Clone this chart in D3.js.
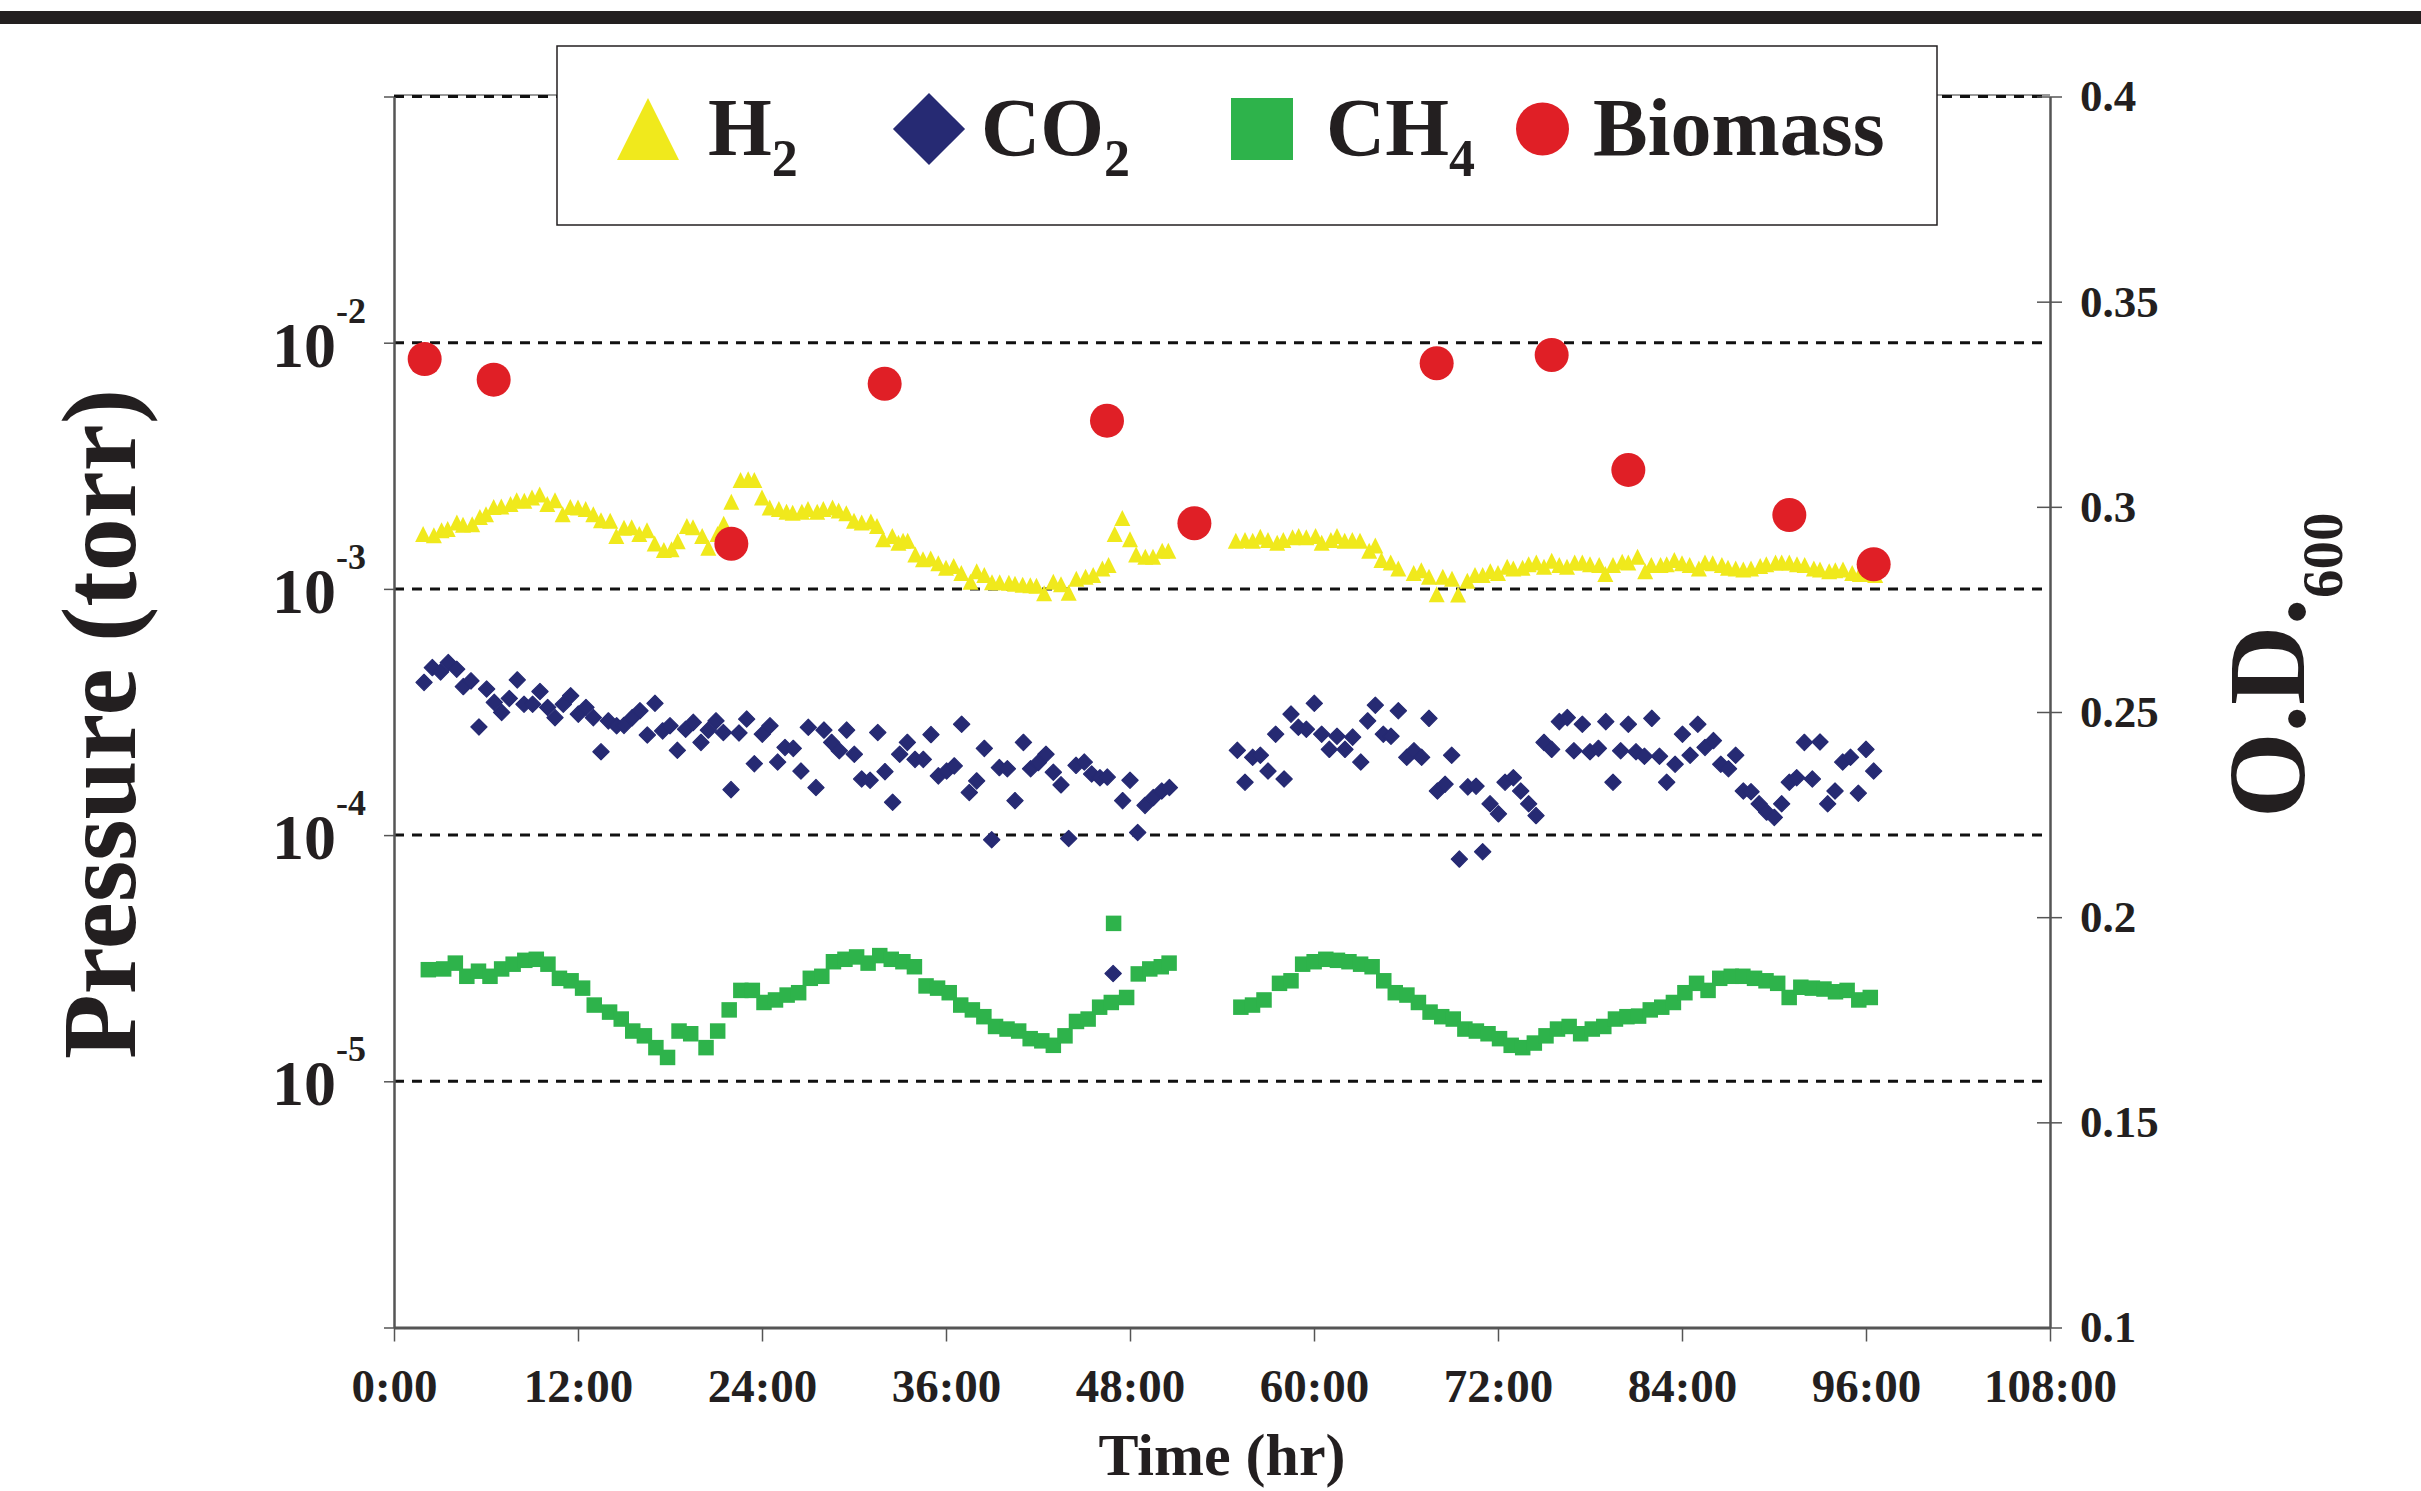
<!DOCTYPE html>
<html>
<head>
<meta charset="utf-8">
<script src="https://cdn.jsdelivr.net/npm/d3@7"></script>
<style>
  body { margin: 0; background: #fff; }
  svg text { font-family: "Liberation Serif", "Times New Roman", serif; font-weight: bold; fill: #231f20; }
</style>
</head>
<body>
<svg id="chart"></svg>
<script>
var width = 2421;
var height = 1491;

// [hours, torr]
var h2 = [
  [1.9,1.67e-3],[2.6,1.65e-3],[3.1,1.73e-3],[3.5,1.75e-3],[4.1,1.86e-3],[4.5,1.82e-3],[5.1,1.83e-3],[5.6,1.96e-3],
  [6.0,2.01e-3],[6.5,2.15e-3],[7.0,2.16e-3],[7.6,2.21e-3],[8.0,2.29e-3],[8.5,2.28e-3],[9.0,2.35e-3],[9.5,2.42e-3],
  [10.0,2.21e-3],[10.5,2.29e-3],[11.0,2.01e-3],[11.5,2.15e-3],[12.0,2.14e-3],[12.5,2.11e-3],[13.0,2.01e-3],[13.5,1.90e-3],
  [14.1,1.89e-3],[14.5,1.64e-3],[15.0,1.77e-3],[15.5,1.78e-3],[16.0,1.67e-3],[16.5,1.73e-3],[17.0,1.53e-3],[17.6,1.44e-3],
  [18.1,1.45e-3],[18.5,1.56e-3],[19.1,1.80e-3],[19.5,1.78e-3],[20.1,1.64e-3],[20.5,1.47e-3],[21.1,1.67e-3],[21.5,1.84e-3],
  [22.0,2.26e-3],[22.6,2.77e-3],[23.1,2.79e-3],[23.5,2.77e-3],[24.0,2.35e-3],[24.5,2.14e-3],[25.1,2.11e-3],[25.6,2.06e-3],
  [26.0,2.04e-3],[26.6,2.06e-3],[27.0,2.11e-3],[27.6,2.06e-3],[28.0,2.11e-3],[28.6,2.14e-3],[29.0,2.08e-3],[29.5,2.03e-3],
  [30.0,1.89e-3],[30.5,1.86e-3],[31.1,1.88e-3],[31.5,1.80e-3],[31.9,1.59e-3],[32.5,1.64e-3],[32.9,1.54e-3],
  [33.2,1.57e-3],[33.5,1.57e-3],[34.0,1.38e-3],[34.5,1.32e-3],[35.0,1.33e-3],[35.5,1.27e-3],[36.0,1.22e-3],[36.5,1.24e-3],
  [37.0,1.16e-3],[37.6,1.07e-3],[38.0,1.18e-3],[38.5,1.14e-3],[39.0,1.065e-3],[39.5,1.065e-3],[40.1,1.06e-3],[40.5,1.05e-3],
  [41.0,1.04e-3],[41.5,1.035e-3],[41.9,1.03e-3],[42.4,0.96e-3],[43.0,1.07e-3],[43.5,1.045e-3],[44.0,0.965e-3],[44.5,1.10e-3],
  [45.1,1.12e-3],[45.6,1.14e-3],[46.2,1.21e-3],[46.6,1.25e-3],[47.0,1.67e-3],[47.5,1.94e-3],[48.0,1.59e-3],[48.4,1.38e-3],
  [49.0,1.35e-3],[49.5,1.35e-3],[50.1,1.43e-3],[50.5,1.43e-3],
  [54.9,1.57e-3],[55.5,1.58e-3],[56.0,1.57e-3],[56.5,1.63e-3],[57.0,1.58e-3],[57.6,1.54e-3],[58.0,1.58e-3],[58.6,1.62e-3],
  [59.0,1.64e-3],[59.5,1.62e-3],[60.1,1.64e-3],[60.5,1.54e-3],[61.1,1.58e-3],[61.5,1.64e-3],[62.0,1.57e-3],[62.5,1.58e-3],
  [63.0,1.57e-3],[63.6,1.43e-3],[64.0,1.50e-3],[64.4,1.31e-3],[65.0,1.28e-3],[65.5,1.21e-3],[66.5,1.16e-3],[67.0,1.19e-3],
  [67.5,1.12e-3],[68.0,0.952e-3],[68.4,1.12e-3],[69.0,1.10e-3],[69.4,0.95e-3],[70.0,1.08e-3],[70.5,1.14e-3],[71.0,1.14e-3],
  [71.5,1.18e-3],[72.0,1.16e-3],[72.6,1.23e-3],[73.0,1.21e-3],[73.6,1.22e-3],[74.0,1.26e-3],[74.5,1.28e-3],[75.0,1.23e-3],
  [75.5,1.30e-3],[76.0,1.25e-3],[76.5,1.23e-3],[77.0,1.28e-3],[77.5,1.28e-3],[78.0,1.26e-3],[78.6,1.25e-3],[79.0,1.15e-3],
  [79.5,1.25e-3],[80.1,1.29e-3],[80.5,1.28e-3],[81.1,1.35e-3],[81.6,1.18e-3],[82.0,1.25e-3],[82.6,1.25e-3],[83.0,1.26e-3],
  [83.5,1.31e-3],[84.0,1.27e-3],[84.5,1.25e-3],[85.1,1.21e-3],[85.5,1.28e-3],[86.0,1.27e-3],[86.6,1.25e-3],[87.0,1.22e-3],
  [87.5,1.21e-3],[88.0,1.20e-3],[88.5,1.21e-3],[89.1,1.24e-3],[89.5,1.26e-3],[90.1,1.28e-3],[90.5,1.28e-3],[91.0,1.28e-3],
  [91.5,1.26e-3],[92.0,1.25e-3],[92.6,1.21e-3],[93.0,1.20e-3],[93.6,1.18e-3],[94.0,1.19e-3],[94.5,1.20e-3],[95.1,1.16e-3],
  [95.6,1.15e-3],[96.0,1.15e-3],[96.6,1.14e-3]
];

var co2 = [
  [1.96,4.17e-4],[2.50,4.79e-4],[3.04,4.60e-4],[3.54,5.02e-4],[4.09,4.72e-4],[4.52,4.01e-4],[5.02,4.23e-4],[5.54,2.75e-4],
  [6.04,3.92e-4],[6.54,3.46e-4],[7.02,3.15e-4],[7.52,3.59e-4],[8.04,4.27e-4],[8.48,3.40e-4],[9.04,3.40e-4],[9.52,3.83e-4],
  [10.02,3.30e-4],[10.50,3.00e-4],[11.04,3.40e-4],[11.52,3.68e-4],[12.02,3.10e-4],[12.52,3.30e-4],[13.0,3.00e-4],[13.5,2.18e-4],
  [13.98,2.91e-4],[14.52,2.78e-4],[15.0,2.79e-4],[15.54,3.00e-4],[16.04,3.20e-4],[16.52,2.55e-4],[17.02,3.43e-4],[17.52,2.65e-4],
  [18.0,2.78e-4],[18.48,2.21e-4],[19.02,2.69e-4],[19.52,2.87e-4],[20.02,2.38e-4],[20.5,2.67e-4],[21.0,2.91e-4],[21.48,2.61e-4],
  [21.98,1.53e-4],[22.5,2.60e-4],[23.0,2.96e-4],[23.5,1.95e-4],[24.02,2.57e-4],[24.52,2.78e-4],[25.02,1.98e-4],[25.5,2.27e-4],
  [26.04,2.25e-4],[26.54,1.82e-4],[27.02,2.74e-4],[27.52,1.56e-4],[28.04,2.67e-4],[28.54,2.38e-4],[29.04,2.20e-4],[29.52,2.67e-4],
  [30.02,2.13e-4],[30.5,1.69e-4],[31.05,1.67e-4],[31.55,2.61e-4],[32.02,1.81e-4],[32.52,1.36e-4],[32.98,2.13e-4],
  [33.48,2.38e-4],[33.98,2.03e-4],[34.52,2.03e-4],[35.02,2.56e-4],[35.5,1.74e-4],[36.04,1.82e-4],[36.54,1.91e-4],[37.02,2.82e-4],
  [37.52,1.49e-4],[38.0,1.66e-4],[38.5,2.25e-4],[38.98,9.57e-5],[39.48,1.88e-4],[40.0,1.86e-4],[40.5,1.38e-4],[41.05,2.38e-4],
  [41.52,1.86e-4],[42.02,1.97e-4],[42.52,2.13e-4],[43.0,1.80e-4],[43.5,1.60e-4],[44.0,9.69e-5],[44.48,1.92e-4],[45.02,1.98e-4],
  [45.5,1.77e-4],[46.04,1.71e-4],[46.52,1.72e-4],[46.9,2.74e-5],[47.52,1.38e-4],[48.0,1.67e-4],[48.5,1.025e-4],[48.98,1.32e-4],
  [49.52,1.42e-4],[50.07,1.51e-4],[50.57,1.56e-4],
  [55.0,2.21e-4],[55.5,1.64e-4],[56.0,2.07e-4],[56.5,2.11e-4],[57.0,1.82e-4],[57.5,2.57e-4],[58.05,1.69e-4],[58.5,3.10e-4],
  [58.98,2.74e-4],[59.5,2.69e-4],[60.02,3.43e-4],[60.5,2.57e-4],[61.0,2.23e-4],[61.5,2.52e-4],[62.02,2.23e-4],[62.52,2.50e-4],
  [63.05,1.98e-4],[63.5,2.91e-4],[64.0,3.37e-4],[64.52,2.57e-4],[65.02,2.52e-4],[65.5,3.20e-4],[66.05,2.07e-4],[66.52,2.20e-4],
  [67.02,2.07e-4],[67.5,2.98e-4],[68.05,1.51e-4],[68.55,1.61e-4],[68.98,2.11e-4],[69.48,7.99e-5],[70.03,1.57e-4],[70.57,1.58e-4],
  [71.0,8.56e-5],[71.48,1.34e-4],[72.03,1.22e-4],[72.46,1.64e-4],[73.0,1.71e-4],[73.48,1.51e-4],[74.0,1.34e-4],[74.48,1.20e-4],
  [75.0,2.38e-4],[75.5,2.23e-4],[76.0,2.89e-4],[76.52,3.00e-4],[76.95,2.20e-4],[77.5,2.82e-4],[78.0,2.18e-4],[78.55,2.25e-4],
  [79.03,2.89e-4],[79.5,1.64e-4],[80.0,2.20e-4],[80.5,2.82e-4],[81.0,2.18e-4],[81.55,2.09e-4],[82.03,2.98e-4],[82.53,2.09e-4],
  [83.0,1.64e-4],[83.55,1.94e-4],[84.03,2.57e-4],[84.53,2.11e-4],[85.03,2.82e-4],[85.5,2.27e-4],[86.05,2.42e-4],[86.53,1.94e-4],
  [87.03,1.86e-4],[87.5,2.11e-4],[88.0,1.51e-4],[88.5,1.50e-4],[89.03,1.34e-4],[89.52,1.24e-4],[90.02,1.18e-4],[90.5,1.34e-4],
  [91.0,1.64e-4],[91.48,1.71e-4],[91.98,2.38e-4],[92.5,1.69e-4],[93.0,2.39e-4],[93.5,1.34e-4],[93.98,1.51e-4],[94.48,1.98e-4],
  [94.99,2.07e-4],[95.5,1.48e-4],[96.0,2.23e-4],[96.5,1.82e-4]
];

var ch4 = [
  [2.24,2.84e-5],[3.24,2.86e-5],[4.00,3.02e-5],[4.75,2.67e-5],[5.51,2.80e-5],[6.26,2.67e-5],[7.02,2.86e-5],[7.77,2.99e-5],
  [8.53,3.10e-5],[9.28,3.13e-5],[10.04,2.99e-5],[10.79,2.62e-5],[11.55,2.56e-5],[12.30,2.39e-5],[13.06,2.04e-5],[14.06,1.91e-5],
  [14.82,1.79e-5],[15.57,1.60e-5],[16.33,1.53e-5],[17.08,1.37e-5],[17.84,1.25e-5],[18.59,1.60e-5],[19.35,1.56e-5],[20.35,1.37e-5],
  [21.11,1.60e-5],[21.86,1.95e-5],[22.62,2.34e-5],[23.37,2.34e-5],[24.13,2.09e-5],[24.88,2.14e-5],[25.64,2.24e-5],[26.39,2.29e-5],
  [27.15,2.62e-5],[27.90,2.67e-5],[28.66,3.06e-5],[29.41,3.13e-5],[30.17,3.20e-5],[30.92,3.02e-5],[31.68,3.24e-5],[32.43,3.13e-5],
  [33.19,3.06e-5],[33.94,2.92e-5],[34.70,2.44e-5],[35.45,2.39e-5],[36.21,2.29e-5],[36.96,2.04e-5],[37.72,1.95e-5],[38.47,1.83e-5],
  [39.23,1.67e-5],[39.98,1.63e-5],[40.74,1.60e-5],[41.49,1.49e-5],[42.25,1.46e-5],[43.00,1.40e-5],[43.76,1.53e-5],[44.51,1.75e-5],
  [45.27,1.79e-5],[46.02,2.00e-5],[46.78,2.09e-5],[46.93,4.38e-5],[47.78,2.19e-5],[48.54,2.73e-5],[49.29,2.86e-5],[50.04,2.92e-5],
  [50.55,3.02e-5],
  [55.23,2.00e-5],[55.99,2.04e-5],[56.74,2.14e-5],[57.75,2.50e-5],[58.50,2.56e-5],[59.26,2.99e-5],[60.01,3.06e-5],[60.77,3.13e-5],
  [61.53,3.10e-5],[62.28,3.06e-5],[63.04,2.99e-5],[63.79,2.92e-5],[64.55,2.56e-5],[65.30,2.29e-5],[66.06,2.24e-5],[66.81,2.09e-5],
  [67.57,1.91e-5],[68.33,1.83e-5],[69.08,1.79e-5],[69.84,1.63e-5],[70.59,1.60e-5],[71.35,1.56e-5],[72.10,1.49e-5],[72.86,1.40e-5],
  [73.61,1.37e-5],[74.37,1.43e-5],[75.13,1.53e-5],[75.88,1.63e-5],[76.64,1.67e-5],[77.39,1.56e-5],[78.15,1.63e-5],[78.90,1.67e-5],
  [79.66,1.79e-5],[80.41,1.83e-5],[81.17,1.84e-5],[81.93,1.95e-5],[82.68,2.00e-5],[83.44,2.09e-5],[84.19,2.29e-5],[84.95,2.50e-5],
  [85.70,2.34e-5],[86.46,2.62e-5],[87.21,2.67e-5],[87.97,2.67e-5],[88.73,2.62e-5],[89.48,2.56e-5],[90.24,2.50e-5],[90.99,2.19e-5],
  [91.75,2.41e-5],[92.50,2.39e-5],[93.26,2.37e-5],[94.01,2.31e-5],[94.77,2.34e-5],[95.53,2.14e-5],[96.28,2.19e-5]
];

// [hours, O.D.600]
var biomass = [
  [2.0,0.336],[6.5,0.331],[22.0,0.291],[32.0,0.330],[46.5,0.321],[52.2,0.296],
  [68.0,0.335],[75.5,0.337],[80.5,0.309],[91.0,0.298],[96.5,0.286]
];

var hourTicks = [0, 12, 24, 36, 48, 60, 72, 84, 96, 108];
var pressureTicks = [1e-1, 1e-2, 1e-3, 1e-4, 1e-5, 1e-6];
var pressureLabels = [1e-2, 1e-3, 1e-4, 1e-5];
var odTicks = [0.1, 0.15, 0.2, 0.25, 0.3, 0.35, 0.4];

var legendItems = [
  {name: 'H', sub: '2', shape: 'triangle', color: '#F0E91C'},
  {name: 'CO', sub: '2', shape: 'diamond', color: '#262A73'},
  {name: 'CH', sub: '4', shape: 'square', color: '#2EB34B'},
  {name: 'Biomass', sub: '', shape: 'circle', color: '#E01F26'}
];

var svg = d3.select('#chart')
    .attr('width', width)
    .attr('height', height);

var plotLeft = 394, plotRight = 2050, plotTop = 96.5, plotBottom = 1327.5;

var x = d3.scaleLinear().domain([0, 108]).range([plotLeft, plotRight]);
var y = d3.scaleLog().domain([1e-6, 1e-1]).range([plotBottom, plotTop]);
var yOD = d3.scaleLinear().domain([0.1, 0.4]).range([plotBottom, plotTop]);

var triangle = {
  draw: function(context, size) {
    var s = Math.sqrt(size);
    context.moveTo(0, -s / 2);
    context.lineTo(s / 2, s / 2);
    context.lineTo(-s / 2, s / 2);
    context.closePath();
  }
};

// black rule across the top of the page
svg.append('rect')
    .attr('x', 0).attr('y', 11)
    .attr('width', width).attr('height', 13)
    .attr('fill', '#231f20');

// frame top
svg.append('line')
    .attr('x1', plotLeft).attr('x2', plotRight)
    .attr('y1', plotTop - 1.5).attr('y2', plotTop - 1.5)
    .attr('stroke', '#9a9a9a').attr('stroke-width', 2);

// dashed grid
svg.append('g')
    .selectAll('line')
    .data(pressureTicks.slice(0, 5))
    .enter().append('line')
    .attr('x1', plotLeft).attr('x2', plotRight)
    .attr('y1', function(d) { return y(d); })
    .attr('y2', function(d) { return y(d); })
    .attr('stroke', '#111')
    .attr('stroke-width', 3)
    .attr('stroke-dasharray', '10,8');

function styleAxis(g) {
  g.select('.domain').attr('stroke', '#555').attr('stroke-width', 2.5);
  g.selectAll('.tick line').attr('stroke', '#555').attr('stroke-width', 1.5);
}

var xAxis = d3.axisBottom(x)
    .tickValues(hourTicks)
    .tickSize(14)
    .tickSizeOuter(0)
    .tickPadding(27)
    .tickFormat(function(d) { return d + ':00'; });

svg.append('g')
    .attr('transform', 'translate(0,' + plotBottom + ')')
    .call(xAxis)
    .call(styleAxis)
    .call(function(g) {
      g.select('.domain').attr('stroke-width', 3);
      g.selectAll('.tick text').attr('font-size', 47);
    });

var yAxis = d3.axisLeft(y)
    .tickValues(pressureTicks)
    .tickSize(10)
    .tickSizeOuter(0)
    .tickFormat('');

svg.append('g')
    .attr('transform', 'translate(' + plotLeft + ',0)')
    .call(yAxis)
    .call(styleAxis);

svg.append('g')
    .selectAll('text')
    .data(pressureLabels)
    .enter().append('text')
    .attr('x', 272)
    .attr('y', function(d) { return y(d) + 24; })
    .attr('font-size', 64)
    .each(function(d) {
      var t = d3.select(this);
      t.append('tspan').text('10');
      t.append('tspan')
          .attr('font-size', 36)
          .attr('dy', -44)
          .text(Math.round(Math.log10(d)));
    });

var odAxis = d3.axisRight(yOD)
    .tickValues(odTicks)
    .tickSize(12)
    .tickSizeOuter(0)
    .tickPadding(18)
    .tickFormat(function(d) { return String(+d.toFixed(2)); });

svg.append('g')
    .attr('transform', 'translate(' + plotRight + ',0)')
    .call(odAxis)
    .call(styleAxis)
    .call(function(g) {
      g.selectAll('.tick line').attr('x1', -13);
      g.selectAll('.tick text').attr('font-size', 45);
    });

// series
svg.append('g')
    .selectAll('path')
    .data(h2)
    .enter().append('path')
    .attr('transform', function(d) { return 'translate(' + x(d[0]) + ',' + y(d[1]) + ')'; })
    .attr('d', d3.symbol().type(triangle).size(256))
    .attr('fill', legendItems[0].color);

svg.append('g')
    .selectAll('path')
    .data(co2)
    .enter().append('path')
    .attr('transform', function(d) { return 'translate(' + x(d[0]) + ',' + y(d[1]) + ') rotate(45)'; })
    .attr('d', d3.symbol().type(d3.symbolSquare).size(132))
    .attr('fill', legendItems[1].color)
    .attr('stroke', legendItems[1].color)
    .attr('stroke-width', 1.2)
    .attr('stroke-linejoin', 'round');

svg.append('g')
    .selectAll('path')
    .data(ch4)
    .enter().append('path')
    .attr('transform', function(d) { return 'translate(' + x(d[0]) + ',' + y(d[1]) + ')'; })
    .attr('d', d3.symbol().type(d3.symbolSquare).size(240))
    .attr('fill', legendItems[2].color);

svg.append('g')
    .selectAll('circle')
    .data(biomass)
    .enter().append('circle')
    .attr('cx', function(d) { return x(d[0]); })
    .attr('cy', function(d) { return yOD(d[1]); })
    .attr('r', 17)
    .attr('fill', legendItems[3].color);

// legend
var legend = svg.append('g');
legend.append('rect')
    .attr('x', 557).attr('y', 46)
    .attr('width', 1380).attr('height', 179)
    .attr('fill', '#fff')
    .attr('stroke', '#231f20')
    .attr('stroke-width', 1.5);

var symbolX = [648, 929, 1262, 1542.5];
var labelX = [708, 981, 1326, 1593];

legend.selectAll('.sym')
    .data(legendItems)
    .enter().append('path')
    .attr('class', 'sym')
    .attr('transform', function(d, i) {
      return 'translate(' + symbolX[i] + ',129)' + (d.shape === 'diamond' ? ' rotate(45)' : '');
    })
    .attr('d', function(d) {
      if (d.shape === 'triangle') return d3.symbol().type(triangle).size(62 * 62)();
      if (d.shape === 'diamond') return d3.symbol().type(d3.symbolSquare).size(51 * 51)();
      if (d.shape === 'square') return d3.symbol().type(d3.symbolSquare).size(62 * 62)();
      return d3.symbol().type(d3.symbolCircle).size(Math.PI * 26.5 * 26.5)();
    })
    .attr('fill', function(d) { return d.color; });

legend.selectAll('.lab')
    .data(legendItems)
    .enter().append('text')
    .attr('class', 'lab')
    .attr('x', function(d, i) { return labelX[i]; })
    .attr('y', 155)
    .attr('font-size', 82)
    .each(function(d) {
      var t = d3.select(this);
      t.append('tspan').text(d.name);
      if (d.sub) {
        t.append('tspan').attr('font-size', 52).attr('dy', 21).text(d.sub);
      }
    });

// axis titles
svg.append('text')
    .attr('transform', 'translate(135,724) rotate(-90)')
    .attr('text-anchor', 'middle')
    .attr('font-size', 106)
    .text('Pressure (torr)');

svg.append('text')
    .attr('x', 1222)
    .attr('y', 1475)
    .attr('text-anchor', 'middle')
    .attr('font-size', 60)
    .text('Time (hr)');

var odTitle = svg.append('text')
    .attr('transform', 'translate(2304,818) rotate(-90)')
    .attr('font-size', 110);
odTitle.append('tspan').text('O.D.');
odTitle.append('tspan').attr('font-size', 57).attr('dy', 38).text('600');
</script>
</body>
</html>
